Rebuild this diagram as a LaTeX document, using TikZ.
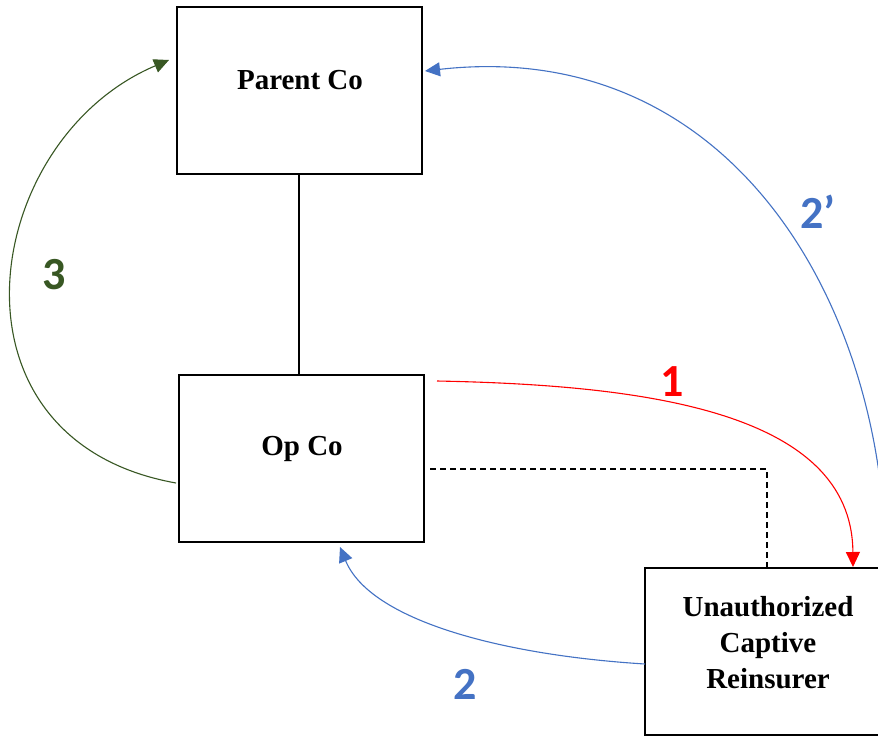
\documentclass[tikz,border=0pt]{standalone}
\usepackage{fontspec}
\setmainfont{Liberation Serif}
\newfontfamily\labfont{Carlito}
\usetikzlibrary{arrows.meta}
\definecolor{cblue}{HTML}{4472C4}
\definecolor{cgreen}{HTML}{385723}
\definecolor{cred}{HTML}{FF0000}
\begin{document}
\begin{tikzpicture}[x=1pt,y=-1pt,
  box/.style={draw=black,line width=2.5pt,minimum width=245pt,minimum height=167pt,inner sep=0pt},
  boxtext/.style={font=\fontsize{29}{36}\selectfont\bfseries,align=center,inner sep=0pt},
  conn/.style={line width=1.1pt},
  tip/.style={-{Triangle[length=15pt,width=14pt]}},
  numlab/.style={font=\labfont\fontsize{46}{50}\selectfont\bfseries,inner sep=0pt}]
\useasboundingbox (0,0) rectangle (878,736);
\clip (0,0) rectangle (878,736);
\fill[white] (0,0) rectangle (878,736);

\node[box] (parent) at (299.5,90.5) {};
\node[box] (opco) at (301.5,458.5) {};
\node[box,minimum width=246pt] (captive) at (768,651.5) {};

\node[boxtext] (parenttext) at (300,80) {Parent Co};
\node[boxtext] (opcotext) at (302,449) {Op Co};
\node[boxtext] (captivetext) at (768,643) {Unauthorized\\Captive\\Reinsurer};

% ownership line
\draw[conn,black] (299,174) coordinate (pl) -- (pl |- opco.north);

% dashed link
\coordinate (dstart) at (430,469);
\coordinate (dend) at (767,568);
\draw[conn,black,dash pattern=on 6pt off 4pt] (dstart) -- (dend |- dstart) -- (dend);

% 1 red
\coordinate (r1) at (437,381);
\coordinate (r2) at (853,567);
\draw[conn,cred,tip] (r1) .. controls (640,385) and (852,410) .. (r2);

% 2 blue
\coordinate (b1) at (645,664);
\coordinate (b2) at (340,547);
\draw[conn,cblue,tip] (b1) .. controls (500,655) and (370,620) .. (b2);

% 2' blue
\coordinate (p1) at (880,480);
\coordinate (p2) at (425,71);
\draw[conn,cblue,tip] (p1) .. controls (850,250) and (700,40) .. (p2);

% 3 green
\coordinate (g1) at (176,483);
\coordinate (g2) at (169,60);
\draw[conn,cgreen,tip] (g1) .. controls (-65,440) and (-20,140) .. (g2);

\node[numlab,text=cred] (l1) at (672,382) {1};
\node[numlab,text=cblue] (l2) at (465,684) {2};
\node[numlab,text=cblue] (l2p) at (818,212) {2’};
\node[numlab,text=cgreen] (l3) at (54,275) {3};
\end{tikzpicture}
\end{document}
